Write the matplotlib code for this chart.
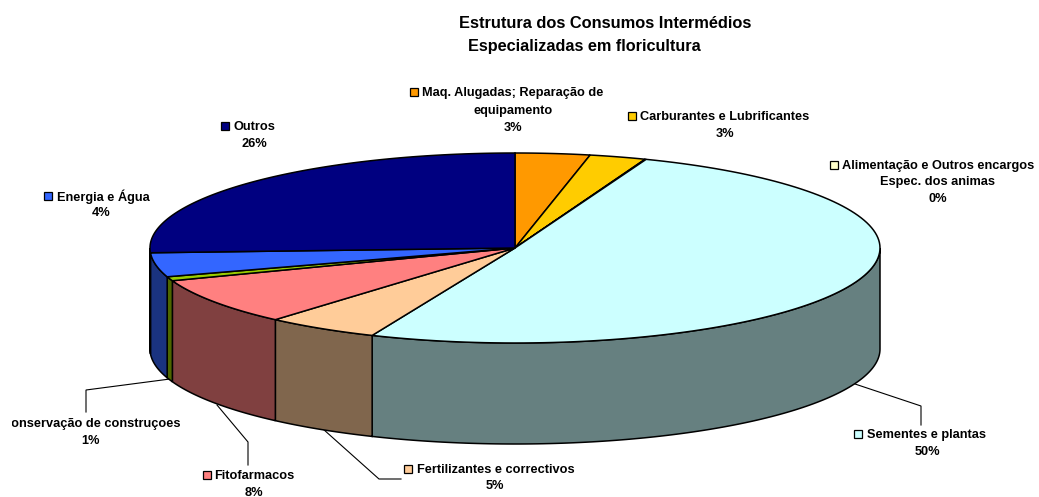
import numpy as np
import matplotlib
matplotlib.use('Agg')
import matplotlib.pyplot as plt
import matplotlib.colors as mcolors
from matplotlib import font_manager
from matplotlib.patches import Polygon, Rectangle

plt.rcParams['font.family'] = ['Liberation Sans', 'DejaVu Sans']

# slices clockwise from the top of the pie, share
names = ['Maq', 'Carb', 'Alim', 'Sementes', 'Fert', 'Fito', 'Cons', 'Energia', 'Outros']
shares = [3.3, 2.5, 0.05, 50.55, 5.0, 8.0, 0.7, 4.1, 25.8]
colors = ['#FF9900', '#FFCC00', '#FFFFCC', '#CCFFFF', '#FFCC99',
          '#FF8080', '#99CC00', '#3366FF', '#000080']

title = 'Estrutura dos Consumos Intermédios'
subtitle = 'Especializadas em floricultura'

# pie geometry in pixels
cx, cy = 515, 248
rx, ry = 365, 95
depth = 101
EDGE = 1.1

installed = {f.name for f in font_manager.fontManager.ttflist}
if 'Liberation Sans Narrow' in installed:
    title_font = dict(family='Liberation Sans Narrow', fontsize=14.5)
else:
    title_font = dict(fontsize=11.8)

fig = plt.figure(figsize=(10.39, 4.97), dpi=100)
ax = fig.add_axes([0, 0, 1, 1])
ax.set_xlim(0, 1039)
ax.set_ylim(497, 0)
ax.axis('off')


def rim(t0, t1, n=120):
    t = np.radians(np.linspace(t0, t1, n))
    return cx + rx * np.sin(t), cy - ry * np.cos(t)


bounds = np.concatenate([[0], np.cumsum(shares)]) / np.sum(shares) * 360

# side walls, only the front half of the ellipse shows
for i in range(len(shares)):
    a = max(bounds[i], 90)
    b = min(bounds[i + 1], 270)
    if b <= a:
        continue
    x, y = rim(a, b)
    px = np.concatenate([x, x[::-1]])
    py = np.concatenate([y, y[::-1] + depth])
    side = np.array(mcolors.to_rgb(colors[i])) * 0.5
    ax.add_patch(Polygon(np.c_[px, py], closed=True, fc=side, ec='black', lw=EDGE, zorder=2))

# top face
for i in range(len(shares)):
    x, y = rim(bounds[i], bounds[i + 1])
    px = np.concatenate([[cx], x])
    py = np.concatenate([[cy], y])
    ax.add_patch(Polygon(np.c_[px, py], closed=True, fc=colors[i], ec='black', lw=EDGE, zorder=3))

LABEL = dict(fontsize=9.2, fontweight='bold', color='black', va='center', zorder=5)


def swatch(x, y, color):
    ax.add_patch(Rectangle((x, y - 4), 8, 8, fc=color, ec='black', lw=0.9, zorder=5))


def leader(xs, ys):
    ax.plot(xs, ys, color='black', lw=0.8, zorder=1, solid_joinstyle='miter')


ax.text(605, 24, title, fontweight='bold', ha='center', va='center', **title_font)
ax.text(584, 47, subtitle, fontsize=11.7, fontweight='bold', ha='center', va='center')

swatch(410, 92, colors[0])
ax.text(422, 93, 'Maq. Alugadas; Reparação de', ha='left', **LABEL)
ax.text(513, 111, 'equipamento', ha='center', **LABEL)
ax.text(513, 128, '3%', ha='center', **LABEL)

swatch(628, 116, colors[1])
ax.text(640, 117, 'Carburantes e Lubrificantes', ha='left', **LABEL)
ax.text(725, 134, '3%', ha='center', **LABEL)

swatch(830, 165, colors[2])
ax.text(842, 166, 'Alimentação e Outros encargos', ha='left', **LABEL)
ax.text(938, 182, 'Espec. dos animas', ha='center', **LABEL)
ax.text(938, 199, '0%', ha='center', **LABEL)

swatch(221, 126, colors[8])
ax.text(234, 127, 'Outros', ha='left', **LABEL)
ax.text(254, 144, '26%', ha='center', **LABEL)

swatch(44, 196, colors[7])
ax.text(57, 197, 'Energia e Água', ha='left', **LABEL)
ax.text(101, 213, '4%', ha='center', **LABEL)

swatch(854, 434, colors[3])
ax.text(867, 435, 'Sementes e plantas', ha='left', **LABEL)
ax.text(927, 452, '50%', ha='center', **LABEL)
leader([855, 921, 921], [384, 406, 425])

swatch(404, 469, colors[4])
ax.text(417, 470, 'Fertilizantes e correctivos', ha='left', **LABEL)
ax.text(495, 486, '5%', ha='center', **LABEL)
leader([323, 379, 401], [429, 479, 479])

swatch(203, 475, colors[5])
ax.text(214, 476, 'Fitofarmacos', ha='left', **LABEL)
ax.text(254, 493, '8%', ha='center', **LABEL)
leader([217, 248, 248], [405, 442, 465])

# this label is cut off on the left in the original
cons = ax.text(180, 424, 'Conservação de construçoes', ha='right', **LABEL)
cons.set_clip_path(Rectangle((12, 400), 200, 50, transform=ax.transData))
cons.set_clip_on(True)
ax.text(91, 441, '1%', ha='center', **LABEL)
leader([170, 86, 86], [379, 390, 412])

fig.savefig('out.png', dpi=100, facecolor='white')
